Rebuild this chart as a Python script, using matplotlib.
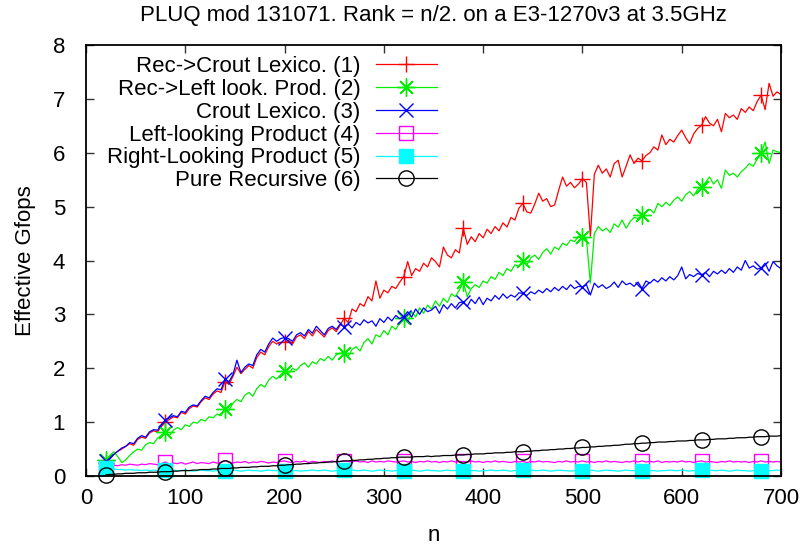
import matplotlib
matplotlib.use("Agg")
import matplotlib.pyplot as plt

plt.rcParams['font.family'] = ['Liberation Sans', 'DejaVu Sans']

# matrix dimension n (x axis)
n_values = list(range(20, 701, 4))

rec_crout = [
    0.25, 0.32, 0.40, 0.46, 0.50, 0.55, 0.60, 0.57, 0.68, 0.72, 0.70, 0.80, 0.84, 0.82, 0.92,
    1.00, 1.05, 1.10, 1.08, 1.18, 1.15, 1.25, 1.30, 1.28, 1.38, 1.45, 1.42, 1.52, 1.58, 1.55,
    1.75, 1.70, 1.85, 2.02, 1.90, 1.98, 2.05, 2.00, 2.20, 2.30, 2.25, 2.40, 2.50, 2.45, 2.48,
    2.48, 2.52, 2.45, 2.58, 2.62, 2.55, 2.68, 2.60, 2.72, 2.65, 2.58, 2.70, 2.75, 2.68, 2.80,
    2.93, 2.85, 3.10, 3.05, 3.20, 3.15, 3.33, 3.25, 3.62, 3.30, 3.45, 3.40, 3.52, 3.48, 3.60,
    3.70, 3.98, 3.72, 3.85, 3.80, 3.95, 3.88, 4.05, 3.98, 3.88, 4.25, 4.10, 4.05, 4.20, 4.14,
    4.60, 4.30, 4.44, 4.35, 4.50, 4.42, 4.58, 4.50, 4.63, 4.55, 4.70, 4.62, 4.80, 4.75, 4.97,
    5.06, 4.90, 4.88, 5.05, 5.25, 5.10, 5.15, 5.00, 5.03, 5.30, 5.55, 5.38, 5.45, 5.35, 5.42,
    5.52, 5.45, 4.45, 5.60, 5.77, 5.62, 5.70, 5.55, 5.80, 5.86, 5.55, 5.75, 5.96, 5.80, 5.90,
    5.85, 5.95, 6.00, 6.11, 6.05, 6.33, 6.15, 6.25, 6.20, 6.32, 6.42, 6.28, 6.17, 6.35, 6.45,
    6.51, 6.67, 6.55, 6.50, 6.62, 6.39, 6.73, 6.65, 6.70, 6.62, 6.82, 6.75, 6.85, 6.78, 6.95,
    7.07, 6.80, 7.29, 7.05, 7.13, 7.08,
]

rec_left = [
    0.30, 0.38, 0.45, 0.36, 0.25, 0.30, 0.38, 0.45, 0.50, 0.48, 0.58, 0.62, 0.60, 0.70, 0.76,
    0.82, 0.75, 0.85, 0.90, 0.86, 0.95, 0.92, 1.00, 0.98, 1.05, 1.02, 1.10, 1.08, 1.15, 1.12,
    1.24, 1.22, 1.35, 1.42, 1.38, 1.50, 1.55, 1.48, 1.62, 1.70, 1.65, 1.78, 1.85, 1.80, 1.88,
    1.94, 1.90, 2.00, 1.96, 2.05, 2.10, 2.02, 2.12, 2.08, 2.18, 2.14, 2.22, 2.15, 2.25, 2.28,
    2.29, 2.22, 2.35, 2.40, 2.32, 2.48, 2.55, 2.45, 2.62, 2.58, 2.70, 2.62, 2.78, 2.72, 2.85,
    2.93, 2.85, 3.05, 2.95, 3.12, 3.02, 3.17, 3.10, 3.25, 3.15, 3.30, 3.22, 3.38, 3.33, 3.45,
    3.60, 3.33, 3.48, 3.55, 3.50, 3.62, 3.58, 3.70, 3.65, 3.78, 3.72, 3.85, 3.80, 3.92, 3.90,
    4.00, 3.92, 4.05, 4.10, 4.02, 4.15, 4.22, 4.12, 4.25, 4.20, 4.32, 4.28, 4.38, 4.35, 4.45,
    4.43, 4.40, 3.58, 4.50, 4.63, 4.55, 4.60, 4.52, 4.68, 4.62, 4.75, 4.60, 4.72, 4.80, 4.78,
    4.84, 4.90, 4.95, 4.88, 5.06, 5.00, 5.08, 5.02, 5.12, 5.18, 5.10, 5.22, 5.28, 5.20, 5.32,
    5.37, 5.45, 5.55, 5.42, 5.50, 5.34, 5.68, 5.58, 5.62, 5.55, 5.65, 5.71, 5.80, 5.75, 5.88,
    5.99, 6.20, 5.80, 6.05, 6.02, 6.00,
]

crout_lexico = [
    0.27, 0.32, 0.40, 0.46, 0.52, 0.55, 0.62, 0.60, 0.70, 0.75, 0.72, 0.82, 0.86, 0.85, 0.95,
    1.04, 1.08, 1.12, 1.10, 1.20, 1.18, 1.28, 1.32, 1.30, 1.40, 1.48, 1.45, 1.55, 1.62, 1.60,
    1.80, 1.75, 1.88, 2.15, 1.92, 2.02, 2.08, 2.05, 2.25, 2.35, 2.30, 2.45, 2.56, 2.50, 2.55,
    2.57, 2.55, 2.50, 2.62, 2.66, 2.60, 2.72, 2.65, 2.78, 2.70, 2.62, 2.74, 2.78, 2.72, 2.82,
    2.77, 2.82, 2.75, 2.85, 2.80, 2.90, 2.84, 2.88, 2.78, 2.92, 2.85, 2.95, 2.88, 2.98, 2.92,
    2.96, 3.05, 2.95, 3.10, 3.00, 3.12, 3.05, 3.08, 3.15, 3.02, 3.18, 3.10, 3.20, 3.12, 3.22,
    3.23, 3.15, 3.28, 3.20, 3.32, 3.18, 3.30, 3.25, 3.35, 3.28, 3.38, 3.30, 3.36, 3.32, 3.40,
    3.39, 3.35, 3.42, 3.38, 3.45, 3.40, 3.48, 3.42, 3.50, 3.44, 3.52, 3.46, 3.55, 3.48, 3.52,
    3.51, 3.55, 3.36, 3.58, 3.50, 3.55, 3.48, 3.52, 3.60, 3.50, 3.62, 3.55, 3.58, 3.52, 3.60,
    3.48, 3.62, 3.58, 3.65, 3.60, 3.68, 3.62, 3.70, 3.64, 3.72, 3.88, 3.66, 3.74, 3.70, 3.76,
    3.73, 3.78, 3.70, 3.80, 3.75, 3.82, 3.76, 3.85, 3.78, 3.88, 3.82, 4.00, 3.86, 3.90, 3.84,
    3.86, 3.95, 3.80, 3.98, 3.90, 3.85,
]

left_looking = [
    0.15, 0.18, 0.20, 0.19, 0.21, 0.20, 0.22, 0.21, 0.20, 0.22, 0.21, 0.23, 0.22, 0.21, 0.23,
    0.26, 0.22, 0.24, 0.23, 0.25, 0.22, 0.24, 0.26, 0.23, 0.25, 0.24, 0.23, 0.26, 0.24, 0.25,
    0.29, 0.25, 0.24, 0.26, 0.25, 0.27, 0.24, 0.26, 0.25, 0.27, 0.26, 0.24, 0.26, 0.25, 0.27,
    0.28, 0.26, 0.25, 0.27, 0.26, 0.28, 0.25, 0.27, 0.26, 0.25, 0.27, 0.26, 0.28, 0.26, 0.27,
    0.28, 0.27, 0.26, 0.28, 0.26, 0.27, 0.25, 0.28, 0.26, 0.27, 0.26, 0.28, 0.27, 0.26, 0.27,
    0.28, 0.26, 0.27, 0.25, 0.27, 0.26, 0.28, 0.26, 0.27, 0.25, 0.27, 0.26, 0.28, 0.26, 0.27,
    0.27, 0.26, 0.28, 0.26, 0.27, 0.25, 0.27, 0.26, 0.28, 0.26, 0.27, 0.26, 0.25, 0.27, 0.26,
    0.27, 0.25, 0.27, 0.26, 0.28, 0.26, 0.27, 0.26, 0.25, 0.27, 0.26, 0.28, 0.26, 0.27, 0.26,
    0.28, 0.26, 0.27, 0.25, 0.27, 0.26, 0.28, 0.26, 0.27, 0.26, 0.25, 0.27, 0.26, 0.28, 0.26,
    0.28, 0.26, 0.27, 0.26, 0.28, 0.25, 0.27, 0.26, 0.27, 0.26, 0.28, 0.26, 0.27, 0.25, 0.27,
    0.28, 0.26, 0.27, 0.26, 0.25, 0.27, 0.26, 0.28, 0.26, 0.27, 0.26, 0.27, 0.25, 0.27, 0.26,
    0.28, 0.26, 0.27, 0.26, 0.27, 0.26,
]

right_looking = [
    0.14, 0.14, 0.13, 0.12, 0.12, 0.11, 0.12, 0.11, 0.11, 0.10, 0.11, 0.10, 0.11, 0.10, 0.10,
    0.11, 0.10, 0.11, 0.10, 0.10, 0.11, 0.10, 0.09, 0.10, 0.11, 0.10, 0.10, 0.09, 0.10, 0.11,
    0.10, 0.10, 0.11, 0.10, 0.09, 0.10, 0.11, 0.10, 0.10, 0.09, 0.10, 0.11, 0.10, 0.10, 0.11,
    0.10, 0.11, 0.10, 0.10, 0.09, 0.10, 0.10, 0.11, 0.10, 0.10, 0.11, 0.10, 0.09, 0.10, 0.10,
    0.11, 0.10, 0.11, 0.10, 0.10, 0.11, 0.10, 0.09, 0.10, 0.11, 0.10, 0.10, 0.09, 0.10, 0.11,
    0.10, 0.10, 0.11, 0.10, 0.09, 0.10, 0.11, 0.10, 0.10, 0.09, 0.10, 0.11, 0.10, 0.10, 0.11,
    0.10, 0.11, 0.10, 0.10, 0.09, 0.10, 0.10, 0.11, 0.10, 0.10, 0.11, 0.10, 0.09, 0.10, 0.10,
    0.11, 0.10, 0.11, 0.10, 0.10, 0.11, 0.10, 0.09, 0.10, 0.11, 0.10, 0.10, 0.09, 0.10, 0.11,
    0.10, 0.10, 0.11, 0.10, 0.09, 0.10, 0.11, 0.10, 0.10, 0.09, 0.10, 0.11, 0.10, 0.10, 0.11,
    0.10, 0.11, 0.10, 0.10, 0.09, 0.10, 0.10, 0.11, 0.10, 0.10, 0.11, 0.10, 0.09, 0.10, 0.10,
    0.11, 0.10, 0.11, 0.10, 0.10, 0.11, 0.10, 0.09, 0.10, 0.11, 0.10, 0.10, 0.09, 0.10, 0.11,
    0.10, 0.11, 0.10, 0.10, 0.11, 0.10,
]

pure_recursive = [
    0.02, 0.03, 0.03, 0.04, 0.04, 0.05, 0.05, 0.05, 0.06, 0.06, 0.06, 0.07, 0.07, 0.07, 0.08,
    0.08, 0.08, 0.09, 0.09, 0.10, 0.10, 0.10, 0.11, 0.11, 0.12, 0.12, 0.12, 0.13, 0.13, 0.14,
    0.14, 0.14, 0.15, 0.15, 0.16, 0.16, 0.16, 0.17, 0.17, 0.18, 0.18, 0.18, 0.19, 0.19, 0.20,
    0.20, 0.21, 0.21, 0.22, 0.22, 0.23, 0.23, 0.24, 0.24, 0.25, 0.25, 0.26, 0.26, 0.27, 0.27,
    0.28, 0.28, 0.29, 0.29, 0.30, 0.30, 0.31, 0.31, 0.32, 0.32, 0.33, 0.33, 0.34, 0.34, 0.35,
    0.35, 0.35, 0.35, 0.36, 0.36, 0.36, 0.37, 0.36, 0.37, 0.37, 0.38, 0.38, 0.38, 0.39, 0.39,
    0.39, 0.40, 0.40, 0.41, 0.41, 0.41, 0.42, 0.42, 0.43, 0.43, 0.43, 0.44, 0.44, 0.45, 0.45,
    0.45, 0.46, 0.46, 0.47, 0.47, 0.48, 0.48, 0.49, 0.49, 0.50, 0.50, 0.51, 0.51, 0.52, 0.52,
    0.53, 0.53, 0.54, 0.54, 0.55, 0.55, 0.56, 0.56, 0.57, 0.57, 0.58, 0.59, 0.59, 0.60, 0.60,
    0.61, 0.61, 0.62, 0.62, 0.63, 0.63, 0.63, 0.64, 0.64, 0.65, 0.65, 0.65, 0.66, 0.66, 0.67,
    0.67, 0.67, 0.68, 0.68, 0.69, 0.69, 0.69, 0.70, 0.70, 0.71, 0.71, 0.71, 0.72, 0.72, 0.73,
    0.73, 0.73, 0.74, 0.74, 0.74, 0.75,
]

series_labels = [
    "Rec->Crout Lexico. (1)",
    "Rec->Left look. Prod. (2)",
    "Crout Lexico. (3)",
    "Left-looking Product (4)",
    "Right-Looking Product (5)",
    "Pure Recursive (6)",
]

x_ticks = [0, 100, 200, 300, 400, 500, 600, 700]
y_ticks = [0, 1, 2, 3, 4, 5, 6, 7, 8]

title_text = "PLUQ mod 131071. Rank = n/2. on a E3-1270v3 at 3.5GHz"

series = [rec_crout, rec_left, crout_lexico, left_looking, right_looking, pure_recursive]
styles = [
    dict(color="#ff0000", marker="+", mfc="none", ms=11),
    dict(color="#00ee00", marker=(8, 2, 0), mfc="none", ms=13),
    dict(color="#0000ff", marker="x", mfc="none", ms=10),
    dict(color="#ff00ff", marker="s", mfc="none", ms=10.5),
    dict(color="#00ffff", marker="s", ms=10.5),
    dict(color="#000000", marker="o", mfc="none", ms=11),
]

fig = plt.figure(figsize=(8.02, 5.49), dpi=100)
ax = fig.add_axes([86 / 802, 1 - 476 / 549, (781 - 86) / 802, (476 - 45) / 549])

for vals, lab, st in zip(series, series_labels, styles):
    ax.plot(n_values, vals, label=lab, lw=0.9, mew=1.0, markevery=15,
            clip_on=False, **st)

ax.set_xlim(0, 700)
ax.set_ylim(0, 8)
ax.set_xticks(x_ticks)
ax.set_yticks(y_ticks)
ax.tick_params(direction="in", top=True, right=True, length=6, width=1,
               labelsize=16, color="#333333")
ax.tick_params(axis="y", pad=15)
ax.tick_params(axis="x", pad=9)
for sp in ax.spines.values():
    sp.set_linewidth(1.3)

ax.set_xlabel("n", fontsize=16, labelpad=11)
ax.set_ylabel("Effective Gfops", fontsize=16, labelpad=12)
ax.set_title(title_text, fontsize=16, pad=17)

leg = ax.legend(loc="upper right", bbox_to_anchor=(0.505, 0.974),
                markerfirst=False, frameon=False, fontsize=16,
                borderpad=0, borderaxespad=0, handlelength=2.75,
                handletextpad=0.7, labelspacing=0.08, numpoints=1)

fig.savefig("out.png", dpi=100)
